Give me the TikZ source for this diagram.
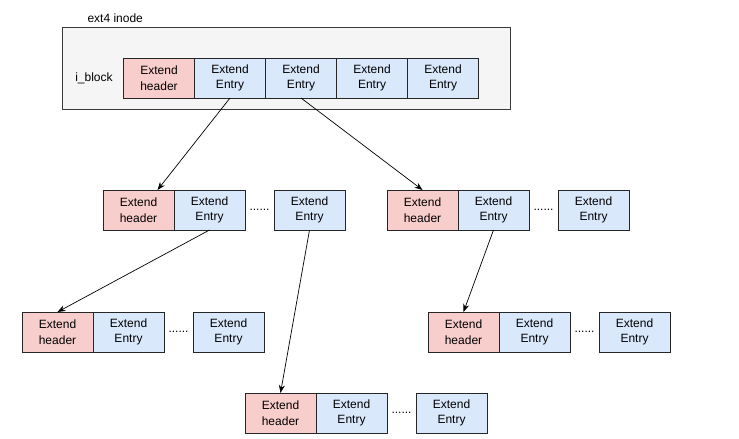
\documentclass[tikz,border=0pt]{standalone}
\usepackage{fontspec}
\setmainfont{Liberation Sans}
\usetikzlibrary{arrows.meta,positioning}
\definecolor{hdrfill}{HTML}{F8CECC}
\definecolor{entfill}{HTML}{DAE8FC}
\definecolor{boxfill}{HTML}{F5F5F5}
\definecolor{boxline}{HTML}{3A3A3A}
\tikzset{
  hdr/.style={draw=black!85, fill=hdrfill, line width=0.6pt, minimum width=71pt,
              minimum height=40pt, align=center, inner sep=0pt, outer sep=0pt,
              font=\fontsize{12}{15.5}\selectfont},
  ent/.style={hdr, fill=entfill},
  gap/.style={minimum width=29pt, inner sep=0pt, outer sep=0pt, font=\fontsize{12}{14}\selectfont},
  inodebox/.style={draw=boxline, fill=boxfill, line width=0.9pt, inner sep=0pt,
                   minimum width=448pt, minimum height=82pt},
  link/.style={-{Stealth[length=8pt,width=6pt]}, line width=0.7pt, draw=black}
}
\begin{document}
\begin{tikzpicture}[x=1pt,y=-1pt]
        \useasboundingbox (0,0) rectangle (739,439);
        % inode box
        \node[inodebox] (inode) at (286,68) {};
        \node[anchor=west, font=\fontsize{12}{14}\selectfont] (title) at (84,18) {ext4 inode};
        \node[font=\fontsize{12}{14}\selectfont] (iblock) at (94,78) {i\_block};
        \node[hdr] (th) at (159,78) {Extend\\header};
        \node[ent, right=0pt of th] (te1) {Extend\\Entry};
        \node[ent, right=0pt of te1] (te2) {Extend\\Entry};
        \node[ent, right=0pt of te2] (te3) {Extend\\Entry};
        \node[ent, right=0pt of te3] (te4) {Extend\\Entry};
        % second level, left
        \node[hdr] (ah) at (138.5,210) {Extend\\header};
        \node[ent, right=0pt of ah] (ae1) {Extend\\Entry};
        \node[gap, right=0pt of ae1] (ad) {......};
        \node[ent, right=0pt of ad] (ae2) {Extend\\Entry};
        % second level, right
        \node[hdr] (bh) at (422.5,210) {Extend\\header};
        \node[ent, right=0pt of bh] (be1) {Extend\\Entry};
        \node[gap, right=0pt of be1] (bd) {......};
        \node[ent, right=0pt of bd] (be2) {Extend\\Entry};
        % third level, left
        \node[hdr] (ch) at (57.5,332) {Extend\\header};
        \node[ent, right=0pt of ch] (ce1) {Extend\\Entry};
        \node[gap, right=0pt of ce1] (cd) {......};
        \node[ent, right=0pt of cd] (ce2) {Extend\\Entry};
        % third level, right
        \node[hdr] (dh) at (463.5,332) {Extend\\header};
        \node[ent, right=0pt of dh] (de1) {Extend\\Entry};
        \node[gap, right=0pt of de1] (dd) {......};
        \node[ent, right=0pt of dd] (de2) {Extend\\Entry};
        % bottom
        \node[hdr] (eh) at (280.5,413) {Extend\\header};
        \node[ent, right=0pt of eh] (ee1) {Extend\\Entry};
        \node[gap, right=0pt of ee1] (ed) {......};
        \node[ent, right=0pt of ed] (ee2) {Extend\\Entry};
        % pointers
        \draw[link] (te1.south) -- ([xshift=19pt]ah.north);
        \draw[link] (te2.south) -- (bh.north);
        \draw[link] (ae1.south) -- (ch.north);
        \draw[link] (ae2.south) -- (eh.north);
        \draw[link] (be1.south) -- (dh.north);
      \end{tikzpicture}
\end{document}
